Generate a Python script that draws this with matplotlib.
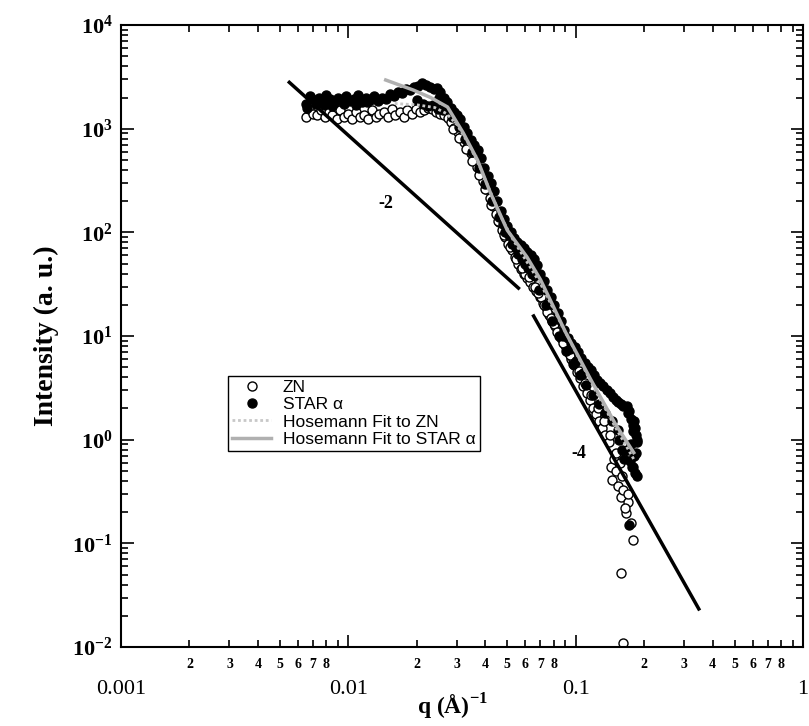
import numpy as np
import matplotlib.pyplot as plt
from matplotlib.ticker import FixedLocator, NullFormatter

plt.rcParams['font.family'] = ['Liberation Serif', 'DejaVu Serif']
plt.rcParams['mathtext.fontset'] = 'custom'
plt.rcParams['mathtext.rm'] = 'Liberation Serif'
plt.rcParams['mathtext.bf'] = 'Liberation Serif:bold'

# ZN sample (open circles): flat plateau, drop, high-q tail
zn_q = [0.0065, 0.0067, 0.0070, 0.0073, 0.0076, 0.0079, 0.0082, 0.0085, 0.0089, 0.0092,
        0.0096, 0.0100, 0.0104, 0.0108, 0.0112, 0.0117, 0.0122, 0.0127, 0.0132, 0.0137,
        0.0143, 0.0149, 0.0155, 0.0161, 0.0168, 0.0175, 0.0182, 0.0190, 0.0198, 0.0206,
        0.0215, 0.0224, 0.0233, 0.0243, 0.0253, 0.0263,
        0.0273, 0.0283, 0.0293, 0.0303, 0.0313, 0.0324, 0.0334, 0.0345, 0.0357, 0.0368,
        0.0380, 0.0392, 0.0405, 0.0418, 0.0432, 0.0446, 0.0460, 0.0475, 0.0490, 0.0506,
        0.0522, 0.0539, 0.0556, 0.0574, 0.0592, 0.0611, 0.0631, 0.0651, 0.0672, 0.0694,
        0.0716, 0.0739, 0.0763, 0.0788, 0.0813, 0.0839, 0.0866, 0.0894, 0.0923, 0.0953,
        0.0984, 0.1015, 0.1048, 0.1082, 0.1117, 0.1153, 0.1190, 0.1228, 0.1268, 0.1309,
        0.1351, 0.1395, 0.1426, 0.1450, 0.1480, 0.1510, 0.1540, 0.1580, 0.1600, 0.1620,
        0.1660, 0.1700, 0.1746, 0.1780, 0.1580, 0.1620, 0.1500, 0.1640, 0.1560, 0.1700,
        0.0600, 0.0660, 0.0705, 0.0750, 0.0800, 0.0850, 0.0910, 0.0970, 0.1030, 0.1100,
        0.1170, 0.1250, 0.1330, 0.1410,
        0.0288, 0.0308, 0.0329, 0.0351, 0.0374, 0.0399, 0.0425, 0.0453, 0.0483, 0.0514,
        0.0548, 0.0583, 0.0621, 0.0685, 0.0728, 0.0775, 0.0825, 0.0880, 0.0940]
zn_I = [1300, 1550, 1400, 1350, 1500, 1300, 1450, 1350, 1250, 1500,
        1300, 1400, 1250, 1450, 1300, 1350, 1250, 1500, 1300, 1400,
        1450, 1300, 1550, 1350, 1450, 1300, 1500, 1400, 1550, 1450,
        1500, 1600, 1550, 1450, 1400, 1350,
        1260, 1150, 1020, 920, 830, 740, 660, 580, 500, 430,
        370, 310, 260, 215, 180, 150, 125, 105, 90, 78,
        68, 58, 50, 44, 40, 36, 33, 30, 27, 24,
        21, 19, 16, 14, 12.5, 11, 9.5, 8.2, 7.0, 6.0,
        5.2, 4.5, 3.9, 3.3, 2.8, 2.4, 2.0, 1.75, 1.5, 1.3,
        1.1, 0.95, 0.55, 0.41, 0.65, 0.5, 0.36, 0.28, 0.45, 0.33,
        0.197, 0.25, 0.158, 0.108, 0.052, 0.011, 0.75, 0.22, 0.6, 0.3,
        40, 30, 24, 17, 13, 10, 7.8, 6.0, 4.6, 3.5,
        2.7, 2.0, 1.5, 1.1,
        1000, 820, 640, 490, 360, 260, 185, 130, 95, 72,
        55, 45, 37, 26, 20, 15, 11, 8.5, 6.5]

# STAR alpha sample (filled circles)
star_q = [0.0065, 0.0068, 0.0071, 0.0074, 0.0077, 0.0080, 0.0083, 0.0087, 0.0090, 0.0094,
          0.0098, 0.0102, 0.0106, 0.0110, 0.0115, 0.0120, 0.0125, 0.0130, 0.0135, 0.0141,
          0.0147, 0.0153, 0.0159, 0.0166, 0.0173, 0.0180, 0.0187, 0.0195, 0.0203, 0.0211,
          0.0220, 0.0229, 0.0238, 0.0066, 0.0072, 0.0078, 0.0085, 0.0096, 0.0108, 0.0121,
          0.0200, 0.0212, 0.0224, 0.0236, 0.0248, 0.0260,
          0.0245, 0.0254, 0.0263, 0.0272, 0.0282, 0.0292, 0.0302, 0.0311, 0.0322, 0.0333,
          0.0345, 0.0357, 0.0370, 0.0383, 0.0396, 0.0410, 0.0422, 0.0436, 0.0452, 0.0468,
          0.0485, 0.0500, 0.0517, 0.0534, 0.0553, 0.0572, 0.0592, 0.0613, 0.0634, 0.0653,
          0.0676, 0.0700, 0.0724, 0.0750, 0.0776, 0.0800, 0.0832, 0.0860, 0.0890, 0.0922,
          0.0955, 0.0990, 0.1024, 0.1060, 0.1100, 0.1135, 0.1165, 0.1200, 0.1240, 0.1280,
          0.1320, 0.1380, 0.1420, 0.1460, 0.1500, 0.1540, 0.1580, 0.1620,
          0.0480, 0.0510, 0.0545, 0.0580, 0.0620, 0.0660, 0.0880, 0.0940, 0.1000, 0.1080,
          0.1680, 0.1700, 0.1720, 0.1750, 0.1780, 0.1800, 0.1830, 0.1840, 0.1860, 0.1870,
          0.1760, 0.1680, 0.1810, 0.1850, 0.1740, 0.1790, 0.1830, 0.1860, 0.1770, 0.1720,
          0.1550, 0.1600, 0.1630, 0.1780,
          0.0250, 0.0268, 0.0287, 0.0306, 0.0327, 0.0350, 0.0375, 0.0400, 0.0428, 0.0458,
          0.0490, 0.0525, 0.0560, 0.0600, 0.0640, 0.0690, 0.0740, 0.0790, 0.0845, 0.0905,
          0.0970, 0.1040, 0.1110, 0.1190, 0.1270, 0.1350, 0.1440, 0.1530]
star_I = [1750, 2050, 1900, 2000, 1850, 2100, 1950, 1800, 2000, 1900,
          2050, 1850, 1950, 2100, 1800, 2000, 1900, 2050, 1850, 2000,
          1950, 2150, 2050, 2250, 2200, 2400, 2350, 2550, 2600, 2750,
          2650, 2550, 2400, 1600, 1750, 1700, 1650, 1750, 1700, 1800,
          1900, 1750, 1650, 1700, 1550, 1500,
          2450, 2250, 2000, 1800, 1600, 1450, 1350, 1250, 1050, 900,
          780, 700, 620, 520, 420, 350, 300, 250, 200, 160,
          135, 115, 100, 88, 80, 75, 70, 65, 60, 55,
          48, 40, 34, 28, 24, 20, 16.7, 14, 11.5, 9.6,
          8.5, 7.9, 7.0, 6.2, 5.5, 5.0, 4.7, 4.2, 3.8, 3.5,
          3.3, 3.0, 2.8, 2.6, 2.4, 2.3, 2.2, 2.1,
          120, 95, 70, 55, 45, 38, 10, 7.5, 5.8, 4.4,
          2.1, 1.8, 1.9, 1.6, 1.4, 1.5, 1.3, 1.1, 0.95, 1.0,
          0.9, 0.8, 0.7, 0.75, 0.62, 0.55, 0.48, 0.45, 0.55, 0.15,
          1.0, 0.8, 0.65, 1.2,
          2000, 1600, 1300, 1050, 800, 600, 420, 290, 200, 140,
          100, 78, 62, 50, 40, 28, 20, 14, 10, 7.2,
          5.4, 4.2, 3.4, 2.7, 2.2, 1.8, 1.5, 1.25]

# Hosemann fits
fit_zn_q = [0.016, 0.020, 0.024, 0.027, 0.030, 0.034, 0.038, 0.042, 0.047, 0.053,
            0.060, 0.070, 0.085, 0.100, 0.120, 0.150, 0.180]
fit_zn_I = [1750, 1700, 1600, 1400, 1100, 700, 420, 250, 140, 85,
            55, 32, 14, 7, 3.2, 1.3, 0.65]
fit_star_q = [0.0146, 0.0193, 0.023, 0.0273, 0.032, 0.037, 0.0422, 0.050, 0.061,
              0.070, 0.080, 0.090, 0.1165, 0.150, 0.180]
fit_star_I = [2950, 2360, 2000, 1620, 912, 499, 240, 105, 58,
              35, 19, 11, 3.8, 1.4, 0.75]

# power-law guide lines
slope2_q = [0.0055, 0.056]
slope2_I = [2800, 29]
slope4_q = [0.0653, 0.348]
slope4_I = [15.6, 0.0233]

fig = plt.figure(figsize=(8.09, 7.26), dpi=100)
ax = fig.add_axes([0.1496, 0.1088, 0.843, 0.8567])

ax.plot(zn_q, zn_I, 'o', mfc='white', mec='black', mew=1.0, ms=6.5, ls='none',
        label='ZN', zorder=2)
ax.plot(star_q, star_I, 'o', mfc='black', mec='black', ms=6.5, ls='none',
        label='STAR α', zorder=3)
ax.plot(fit_zn_q, fit_zn_I, ls=(0, (1, 1)), color='#c8c8c8', lw=2,
        label='Hosemann Fit to ZN', zorder=4)
ax.plot(fit_star_q, fit_star_I, '-', color='#b0b0b0', lw=2.5,
        label='Hosemann Fit to STAR α', zorder=4)
ax.plot(slope2_q, slope2_I, '-', color='black', lw=2.5, zorder=3)
ax.plot(slope4_q, slope4_I, '-', color='black', lw=2.5, zorder=3)

ax.text(0.01456, 192, '-2', fontsize=13, fontweight='bold', ha='center', va='center')
ax.text(0.103, 0.73, '-4', fontsize=13, fontweight='bold', ha='center', va='center')

ax.set_xscale('log')
ax.set_yscale('log')
ax.set_xlim(0.001, 1)
ax.set_ylim(1e-2, 1e4)

# x ticks: decade labels plus 2..8 minor labels
ax.xaxis.set_major_locator(FixedLocator([0.001, 0.01, 0.1, 1]))
ax.set_xticklabels(['0.001', '0.01', '0.1', '1'], fontsize=16)
minor_x = [m * d for d in [0.001, 0.01, 0.1] for m in range(2, 10)]
ax.xaxis.set_minor_locator(FixedLocator(minor_x))
minor_lbl = [str(m) if m < 9 else '' for d in range(3) for m in range(2, 10)]
ax.set_xticks(minor_x, minor_lbl, minor=True, fontsize=10, fontweight='bold')

ax.yaxis.set_major_locator(FixedLocator([1e-2, 1e-1, 1, 10, 100, 1e3, 1e4]))
ax.set_yticklabels([r'$\mathbf{10^{%d}}$' % e for e in range(-2, 5)], fontsize=16)
minor_y = [m * 10.0 ** e for e in range(-2, 4) for m in range(2, 10)]
ax.yaxis.set_minor_locator(FixedLocator(minor_y))
ax.yaxis.set_minor_formatter(NullFormatter())

ax.tick_params(which='both', direction='in', top=True, right=True, width=1.2)
ax.tick_params(which='major', length=9)
ax.tick_params(which='minor', length=5)
ax.tick_params(axis='x', which='major', pad=24)
ax.tick_params(axis='x', which='minor', pad=8)
ax.tick_params(axis='y', which='major', pad=6)
for s in ax.spines.values():
    s.set_linewidth(1.5)

ax.set_ylabel('Intensity (a. u.)', fontsize=20, fontweight='bold', labelpad=10)
fig.text(0.559, 0.006, r'q (Å)$^{\mathbf{-1}}$', fontsize=17, fontweight='bold',
         ha='center', va='bottom')

leg = ax.legend(loc='lower left', bbox_to_anchor=(0.157, 0.315), fancybox=False,
                edgecolor='black', framealpha=1, borderpad=0.25, labelspacing=0.12,
                handlelength=2.2, handletextpad=0.7, borderaxespad=0,
                prop={'family': ['Liberation Sans', 'DejaVu Sans'], 'size': 12.5})
leg.get_frame().set_linewidth(1.0)

fig.savefig('out.png', dpi=100)
